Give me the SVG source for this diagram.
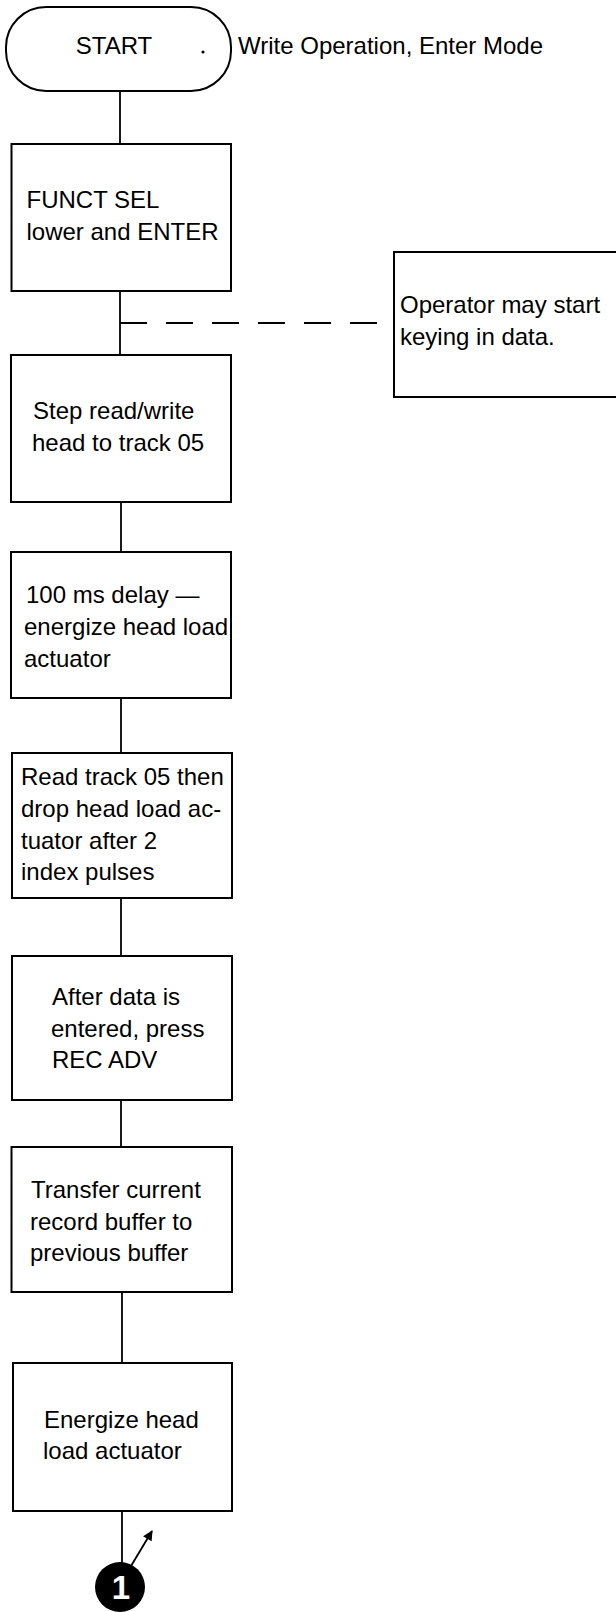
<svg xmlns="http://www.w3.org/2000/svg" width="616" height="1612" viewBox="0 0 616 1612">
<style>
  .box { fill: #fff; stroke: #000; stroke-width: 2; }
  .open { fill: none; stroke: #000; stroke-width: 2; }
  .t { font-family: "Liberation Sans", Arial, sans-serif; font-size: 24px; fill: #000; }
  .c { fill: none; stroke: #000; stroke-width: 1.8; }
  .dash { fill: none; stroke: #000; stroke-width: 1.8; stroke-dasharray: 27 19; }
</style>
<defs>
  <marker id="ah" viewBox="0 0 10 10" refX="9" refY="5" markerWidth="13" markerHeight="10" orient="auto" markerUnits="userSpaceOnUse">
    <path d="M0,0 L10,5 L0,10 z" fill="#000"/>
  </marker>
</defs>
<rect width="616" height="1612" fill="#fff"/>
<g id="connectors">
  <line class="c" x1="120" y1="91" x2="120" y2="144"/>
  <line class="c" x1="120" y1="291" x2="120" y2="355"/>
  <line class="dash" x1="120" y1="323" x2="394" y2="323"/>
  <line class="c" x1="121" y1="502" x2="121" y2="552"/>
  <line class="c" x1="121" y1="698" x2="121" y2="753"/>
  <line class="c" x1="121" y1="898" x2="121" y2="956"/>
  <line class="c" x1="121" y1="1100" x2="121" y2="1147"/>
  <line class="c" x1="122" y1="1292" x2="122" y2="1363"/>
  <line class="c" x1="122" y1="1511" x2="122" y2="1563"/>
  <line class="c" x1="131" y1="1566" x2="152" y2="1531" marker-end="url(#ah)" stroke-width="2.4"/>
</g>
<g id="start">
  <rect class="box" x="6" y="7" width="225" height="84" rx="40" ry="40"/>
  <text class="t" x="114" y="54" text-anchor="middle" font-size="22">START</text>
  <circle cx="203" cy="52" r="1.6" fill="#000"/>
  <text class="t" x="238" y="54">Write Operation, Enter Mode</text>
</g>
<g id="funct-sel">
  <rect class="box" x="11.5" y="144" width="219.5" height="147"/>
  <text class="t" x="26.5" y="208">FUNCT SEL</text>
  <text class="t" x="26.5" y="240">lower and ENTER</text>
</g>
<g id="operator-note">
  <path class="open" d="M616,252 H394 V397 H616"/>
  <text class="t" x="400" y="313">Operator may start</text>
  <text class="t" x="400" y="345">keying in data.</text>
</g>
<g id="step-head">
  <rect class="box" x="11" y="355" width="220" height="147"/>
  <text class="t" x="33" y="419">Step read/write</text>
  <text class="t" x="32" y="451">head to track 05</text>
</g>
<g id="delay">
  <rect class="box" x="11" y="552" width="220" height="146"/>
  <text class="t" x="26" y="603">100 ms delay —</text>
  <text class="t" x="24" y="635">energize head load</text>
  <text class="t" x="24" y="667">actuator</text>
</g>
<g id="read-track">
  <rect class="box" x="12" y="753" width="220" height="145"/>
  <text class="t" x="21" y="785">Read track 05 then</text>
  <text class="t" x="21" y="817">drop head load ac-</text>
  <text class="t" x="21" y="849">tuator after 2</text>
  <text class="t" x="21" y="880">index pulses</text>
</g>
<g id="after-data">
  <rect class="box" x="12" y="956" width="220" height="144"/>
  <text class="t" x="52" y="1005">After data is</text>
  <text class="t" x="51" y="1037">entered, press</text>
  <text class="t" x="52" y="1068">REC ADV</text>
</g>
<g id="transfer">
  <rect class="box" x="11.5" y="1147" width="220.5" height="145"/>
  <text class="t" x="31" y="1198">Transfer current</text>
  <text class="t" x="30" y="1230">record buffer to</text>
  <text class="t" x="30" y="1261">previous buffer</text>
</g>
<g id="energize">
  <rect class="box" x="13" y="1363" width="219" height="148"/>
  <text class="t" x="44" y="1428">Energize head</text>
  <text class="t" x="43" y="1459">load actuator</text>
</g>
<g id="connector-1">
  <circle cx="120" cy="1587" r="25" fill="#000"/>
  <text x="121" y="1599" text-anchor="middle" font-family="Liberation Sans, Arial, sans-serif" font-weight="bold" font-size="33" fill="#fff">1</text>
</g>
</svg>
